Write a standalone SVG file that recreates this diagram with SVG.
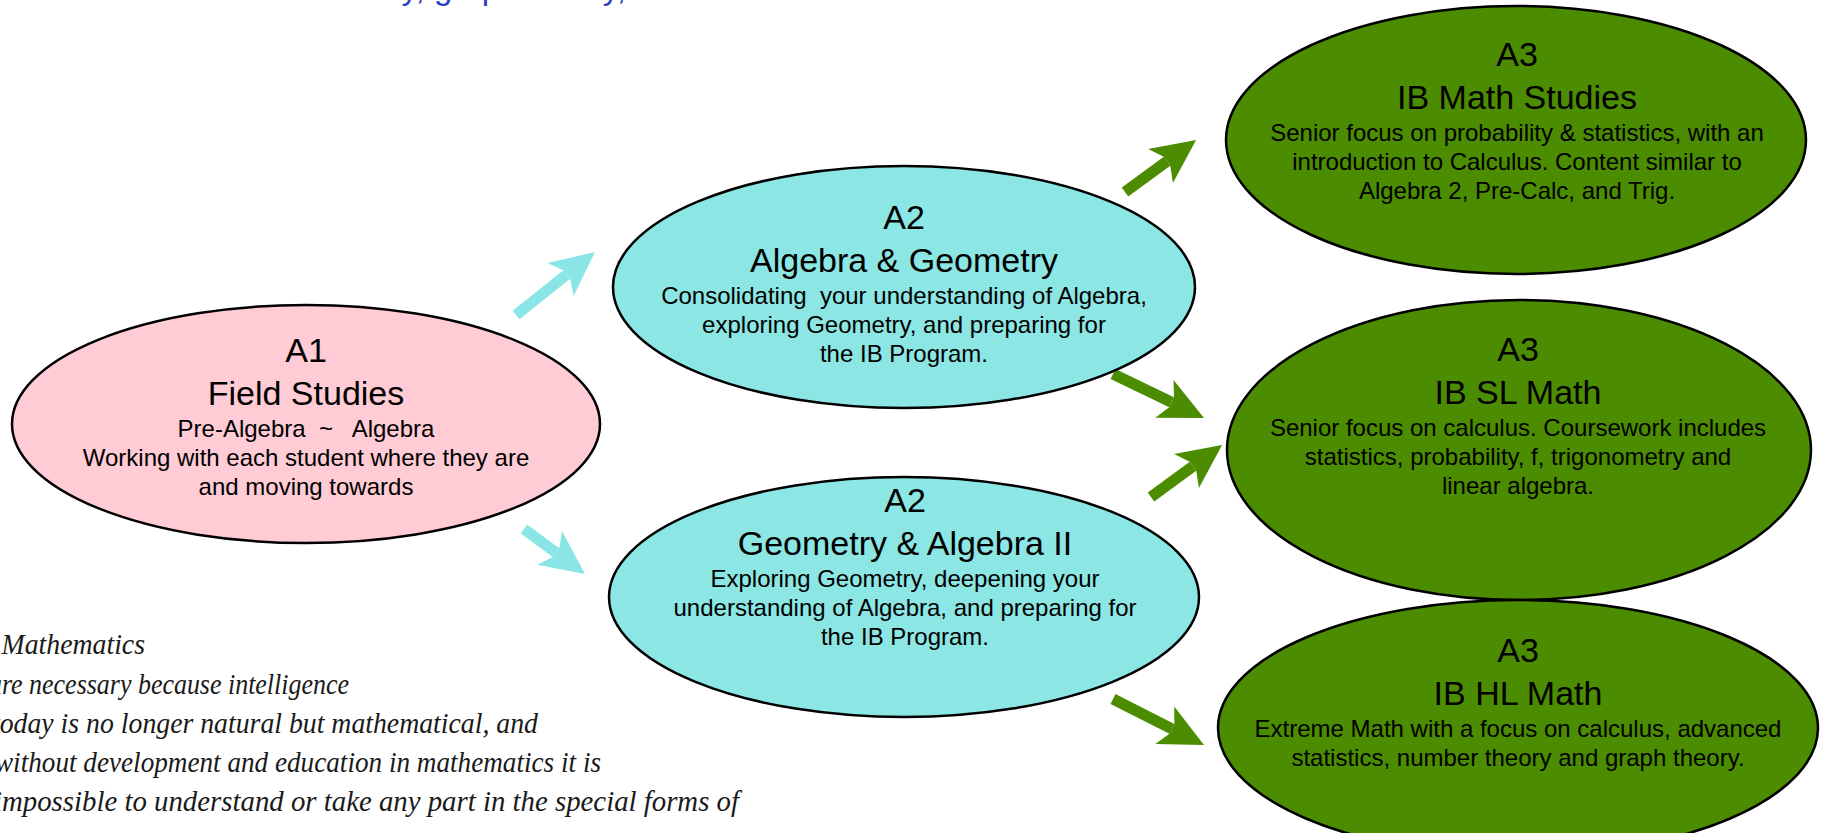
<svg xmlns="http://www.w3.org/2000/svg" width="1824" height="833" viewBox="0 0 1824 833">
  <style>
    .node { stroke: #000; stroke-width: 2.5; }
    .pink { fill: #FFCBD4; }
    .cyan { fill: #8BE6E4; }
    .green { fill: #4C8C00; }
    .lbl { font-family: "Liberation Sans", Arial, Helvetica, sans-serif; fill: #000; text-anchor: middle; }
    .ttl { font-size: 34px; }
    .desc { font-size: 24px; white-space: pre; }
    .conC { stroke: #8AE6E6; stroke-width: 11; fill: none; }
    .conG { stroke: #4C8C00; stroke-width: 11; fill: none; }
    .quote { font-family: "Liberation Serif", "Times New Roman", serif; font-style: italic; font-size: 29px; fill: #1a1a1a; text-anchor: end; }
    .header { font-family: "Liberation Sans", Arial, Helvetica, sans-serif; font-size: 33px; fill: #2B3FC0; text-anchor: end; }
  </style>
  <defs>
    <marker id="headC" markerUnits="userSpaceOnUse" viewBox="-10 -23 48 46" markerWidth="48" markerHeight="46" refX="0" refY="0" orient="auto">
      <path d="M-8,-21 L36,0 L-8,21 L0,5.5 L0,-5.5 Z" fill="#8AE6E6"/>
    </marker>
    <marker id="headG" markerUnits="userSpaceOnUse" viewBox="-10 -23 48 46" markerWidth="48" markerHeight="46" refX="0" refY="0" orient="auto">
      <path d="M-8,-21 L36,0 L-8,21 L0,5.5 L0,-5.5 Z" fill="#4C8C00"/>
    </marker>
  </defs>

  <g id="header">
    <text class="header" x="1046" y="-0.6">Students interested in number theory, graph theory, and statistics-based careers</text>
  </g>

  <g id="connectors">
    <line class="conC" x1="516" y1="315" x2="566.8" y2="274.5" marker-end="url(#headC)"/>
    <line class="conC" x1="524" y1="529" x2="556" y2="552.6" marker-end="url(#headC)"/>
    <line class="conG" x1="1125" y1="192" x2="1167" y2="161.3" marker-end="url(#headG)"/>
    <line class="conG" x1="1113" y1="374" x2="1171.6" y2="402.3" marker-end="url(#headG)"/>
    <line class="conG" x1="1151" y1="497" x2="1193" y2="466.3" marker-end="url(#headG)"/>
    <line class="conG" x1="1113" y1="699" x2="1171.9" y2="728.8" marker-end="url(#headG)"/>
  </g>

  <g id="node-a1">
    <ellipse class="node pink" cx="306" cy="424" rx="294" ry="119"/>
    <text class="lbl ttl" x="306" y="362">A1</text>
    <text class="lbl ttl" x="306" y="405">Field Studies</text>
    <text class="lbl desc" x="306" y="437">Pre-Algebra  ~   Algebra</text>
    <text class="lbl desc" x="306" y="466">Working with each student where they are</text>
    <text class="lbl desc" x="306" y="495">and moving towards</text>
  </g>

  <g id="node-a2-alg-geo">
    <ellipse class="node cyan" cx="904" cy="287" rx="291" ry="121"/>
    <text class="lbl ttl" x="904" y="229">A2</text>
    <text class="lbl ttl" x="904" y="272">Algebra &amp; Geometry</text>
    <text class="lbl desc" x="904" y="304">Consolidating  your understanding of Algebra,</text>
    <text class="lbl desc" x="904" y="333">exploring Geometry, and preparing for</text>
    <text class="lbl desc" x="904" y="362">the IB Program.</text>
  </g>

  <g id="node-a2-geo-alg2">
    <ellipse class="node cyan" cx="904" cy="597" rx="295" ry="120"/>
    <text class="lbl ttl" x="905" y="512">A2</text>
    <text class="lbl ttl" x="905" y="555">Geometry &amp; Algebra II</text>
    <text class="lbl desc" x="905" y="587">Exploring Geometry, deepening your</text>
    <text class="lbl desc" x="905" y="616">understanding of Algebra, and preparing for</text>
    <text class="lbl desc" x="905" y="645">the IB Program.</text>
  </g>

  <g id="node-a3-studies">
    <ellipse class="node green" cx="1516" cy="140" rx="290" ry="134"/>
    <text class="lbl ttl" x="1517" y="66">A3</text>
    <text class="lbl ttl" x="1517" y="109">IB Math Studies</text>
    <text class="lbl desc" x="1517" y="141">Senior focus on probability &amp; statistics, with an</text>
    <text class="lbl desc" x="1517" y="170">introduction to Calculus. Content similar to</text>
    <text class="lbl desc" x="1517" y="199">Algebra 2, Pre-Calc, and Trig.</text>
  </g>

  <g id="node-a3-sl">
    <ellipse class="node green" cx="1519" cy="450" rx="292" ry="150"/>
    <text class="lbl ttl" x="1518" y="361">A3</text>
    <text class="lbl ttl" x="1518" y="404">IB SL Math</text>
    <text class="lbl desc" x="1518" y="436">Senior focus on calculus. Coursework includes</text>
    <text class="lbl desc" x="1518" y="465">statistics, probability, f, trigonometry and</text>
    <text class="lbl desc" x="1518" y="494">linear algebra.</text>
  </g>

  <g id="node-a3-hl">
    <ellipse class="node green" cx="1518" cy="728" rx="300" ry="128"/>
    <text class="lbl ttl" x="1518" y="662">A3</text>
    <text class="lbl ttl" x="1518" y="705">IB HL Math</text>
    <text class="lbl desc" x="1518" y="737">Extreme Math with a focus on calculus, advanced</text>
    <text class="lbl desc" x="1518" y="766">statistics, number theory and graph theory.</text>
  </g>

  <g id="quote">
    <text class="quote" x="145" y="654" textLength="172" lengthAdjust="spacingAndGlyphs">of Mathematics</text>
    <text class="quote" x="349" y="694" textLength="360" lengthAdjust="spacingAndGlyphs">are necessary because intelligence</text>
    <text class="quote" x="538" y="733" textLength="546" lengthAdjust="spacingAndGlyphs">today is no longer natural but mathematical, and</text>
    <text class="quote" x="601" y="772" textLength="606" lengthAdjust="spacingAndGlyphs">without development and education in mathematics it is</text>
    <text class="quote" x="739" y="811" textLength="745" lengthAdjust="spacingAndGlyphs">impossible to understand or take any part in the special forms of</text>
  </g>
</svg>
